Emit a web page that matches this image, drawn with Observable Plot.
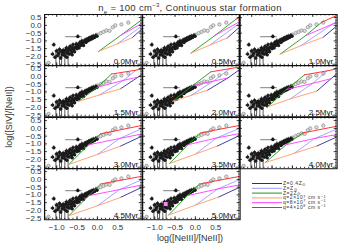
<!DOCTYPE html>
<html><head><meta charset="utf-8">
<script src="https://cdn.jsdelivr.net/npm/d3@7"></script>
<script src="https://cdn.jsdelivr.net/npm/@observablehq/plot@0.6"></script>
<style>
body{margin:0;background:#fff;}
#root{position:relative;width:350px;height:250px;overflow:hidden;font-family:"Liberation Sans",sans-serif;color:#222}
.abs{position:absolute;white-space:nowrap;line-height:1}
.leg sub,.leg sup{font-size:3.8px;line-height:0;vertical-align:baseline;position:relative}
.leg sup{top:-1.8px}
.leg sub{top:0.8px}
</style></head><body><div id="root"></div>
<script>
// ---- data ----
const panelLabels = ["0.0Myr","0.5Myr","1.0Myr","1.5Myr","2.0Myr","2.5Myr","3.0Myr","3.5Myr","4.0Myr","4.5Myr","5.0Myr"];
const xTicks = [-1.0,-0.5,0.0,0.5];
const yTicks = [0.5,0.0,-0.5,-1.0,-1.5,-2.0,-2.5];
// observed points (black, with error bars)
const obsX = [-1.1,-1.07,-1.04,-1.0,-0.98,-0.95,-0.93,-0.9,-0.88,-0.86,-0.84,-0.82,-0.8,-0.78,-0.76,-0.74,-0.72,-0.7,-0.69,-0.67,-0.65,-0.63,-0.61,-0.6,-0.58,-0.56,-0.54,-0.52,-0.5,-0.49,-0.47,-0.45,-0.43,-0.41,-0.4,-0.38,-0.36,-0.34,-0.32,-0.3,-0.28,-0.26,-0.24,-0.22,-0.2,-0.18,-0.16,-0.14,-0.12,-0.1,-0.07,-0.04,-0.01,-0.48,-0.62,-0.75];
const obsY = [-1.85,-1.25,-2.05,-1.65,-1.95,-1.8,-1.55,-2.1,-1.7,-1.9,-1.6,-1.75,-1.95,-1.6,-1.45,-1.8,-1.65,-1.5,-1.85,-1.35,-1.6,-1.75,-1.45,-1.25,-1.55,-1.7,-1.4,-1.2,-1.5,-1.35,-1.25,-1.45,-1.1,-1.3,-1.2,-1.0,-1.15,-1.3,-1.05,-0.95,-1.1,-0.9,-1.0,-0.85,-0.95,-0.8,-0.9,-0.75,-0.85,-0.7,-0.78,-0.65,-0.7,-0.72,-1.9,-2.05];
// observed points (grey open circles)
const circX = [-0.3,-0.1,0.0,0.08,0.15,0.22,0.3,0.38,0.44,0.59,0.76,-1.2];
const circY = [-0.95,-0.75,-0.6,-0.5,-0.42,-0.33,-0.35,-0.12,0.0,0.06,0.18,-2.42];
// upper-limit bars
const limX = [-1.02,-0.93,-0.88,-0.8,-0.72];
const limY1 = [-1.6,-1.55,-1.8,-1.75,-1.9];
const limY2 = [-2.6,-2.6,-2.6,-2.6,-2.6];
// wide horizontal error bar
const hbarY = [-0.72], hbarX1 = [-0.78], hbarX2 = [-0.37];
// highlighted point (5.0 Myr panel only)
const hlX = [-0.73], hlY = [-1.59], hlPanel = ["5.0Myr"];
// model grids: per panel, [Z][q] with Z = 0.4,1,2 Zsun and q = 2e7,8e7,4e8 cm/s
const gridX = [
 [[0.855,1.49,2.0],[0.49,1.46,1.9],[0.03,0.57,1.5]],
 [[0.79,1.4,1.9],[0.35,1.3,1.7],[-0.11,0.48,1.0]],
 [[0.76,1.2,1.6],[0.2,1.0,1.35],[-0.3,0.33,0.72]],
 [[0.57,1.0,1.35],[0.05,0.65,0.95],[-0.46,0.0,0.35]],
 [[0.3,0.8,1.2],[-0.11,0.45,0.85],[-0.56,-0.07,0.38]],
 [[0.6,0.95,1.3],[-0.05,0.5,0.85],[-0.6,-0.15,0.3]],
 [[0.57,1.3,1.8],[0.0,0.55,1.4],[-0.7,-0.22,0.08]],
 [[0.54,1.25,1.8],[0.0,0.52,1.4],[-0.64,-0.18,0.12]],
 [[0.6,1.3,1.8],[0.05,0.55,1.4],[-0.67,-0.15,0.25]],
 [[0.57,1.3,1.8],[0.0,0.55,1.4],[-0.7,-0.22,0.08]],
 [[0.57,1.3,1.8],[0.0,0.55,1.4],[-0.66,-0.2,0.1]]
];
const gridY = [
 [[-0.8,0.72,1.4],[-1.19,0.67,1.3],[-1.68,-0.65,1.15]],
 [[-0.8,0.62,1.3],[-1.28,0.55,1.2],[-1.79,-0.65,0.4]],
 [[-0.76,0.2,1.1],[-1.32,0.1,0.95],[-1.85,-0.65,0.2]],
 [[-0.8,-0.05,0.6],[-1.2,-0.25,0.4],[-1.6,-0.7,0.15]],
 [[-0.89,-0.1,0.65],[-1.23,-0.3,0.5],[-1.6,-0.6,0.29]],
 [[-0.95,-0.15,0.6],[-1.45,-0.45,0.35],[-1.95,-0.85,0.1]],
 [[-1.14,-0.25,0.6],[-1.68,-0.65,0.35],[-2.32,-1.06,-0.35]],
 [[-1.14,-0.25,0.6],[-1.66,-0.62,0.35],[-2.27,-1.05,-0.3]],
 [[-1.14,-0.3,0.55],[-1.6,-0.65,0.3],[-2.21,-1.05,-0.3]],
 [[-1.16,-0.25,0.6],[-1.7,-0.65,0.35],[-2.34,-1.06,-0.3]],
 [[-1.14,-0.25,0.6],[-1.66,-0.62,0.35],[-2.3,-1.05,-0.3]]
];
const zColors = ["#2a2a96","#9c9cff","#1e961e"];
const qColors = ["#ff9a66","#ff3cff","#ff2020"];
const legendLabels = ["Z=0.4Z<sub>⊙</sub>","Z=Z<sub>⊙</sub>","Z=2Z<sub>⊙</sub>","q=2×10<sup>7</sup> cm s<sup>−1</sup>","q=8×10<sup>7</sup> cm s<sup>−1</sup>","q=4×10<sup>8</sup> cm s<sup>−1</sup>"];

// ---- layout ----
const root = document.getElementById("root");
const colX=[44,141.67,239.33], rowY=[14,65.25,116.5,167.75], PW=97.67, PH=51.25;
const xDom=[-1.3,1.1], yDom=[-2.6,0.7];
const fmt = d3.format(".1f");
const minorX = d3.range(-12,11).map(d=>d/10);
const minorY = d3.range(-25,7).map(d=>d/10);
const tx = (xDom[1]-xDom[0])/PW, ty = (yDom[1]-yDom[0])/PH; // data units per pixel
const obs = obsX.map((x,i)=>({x,y:obsY[i]}));
const circ = circX.map((x,i)=>({x,y:circY[i]}));
const lims = limX.map((x,i)=>({x,y1:limY1[i],y2:limY2[i]}));
const hbars = hbarY.map((y,i)=>({y,x1:hbarX1[i],x2:hbarX2[i]}));

function tickMarks(){
  const k="#111", w=0.8;
  return [
    Plot.ruleX(xTicks,{x:d=>d,y1:yDom[0],y2:yDom[0]+3*ty,stroke:k,strokeWidth:w}),
    Plot.ruleX(xTicks,{x:d=>d,y1:yDom[1],y2:yDom[1]-3*ty,stroke:k,strokeWidth:w}),
    Plot.ruleX(minorX,{x:d=>d,y1:yDom[0],y2:yDom[0]+1.5*ty,stroke:k,strokeWidth:w}),
    Plot.ruleX(minorX,{x:d=>d,y1:yDom[1],y2:yDom[1]-1.5*ty,stroke:k,strokeWidth:w}),
    Plot.ruleY(yTicks,{y:d=>d,x1:xDom[0],x2:xDom[0]+3*tx,stroke:k,strokeWidth:w}),
    Plot.ruleY(yTicks,{y:d=>d,x1:xDom[1],x2:xDom[1]-3*tx,stroke:k,strokeWidth:w}),
    Plot.ruleY(minorY,{y:d=>d,x1:xDom[0],x2:xDom[0]+1.5*tx,stroke:k,strokeWidth:w}),
    Plot.ruleY(minorY,{y:d=>d,x1:xDom[1],x2:xDom[1]-1.5*tx,stroke:k,strokeWidth:w})
  ];
}

panelLabels.forEach((lab,i)=>{
  const r=Math.floor(i/3), c=i%3;
  const isLeft=c===0, isBottom=r===3;
  const ml = isLeft?44:0, mb = isBottom?32:0;
  const lines=[];
  for(let z=0;z<3;z++){ for(let q=0;q<3;q++){ lines.push({g:"z"+z,color:zColors[z],x:gridX[i][z][q],y:gridY[i][z][q]}); } }
  for(let q=0;q<3;q++){ for(let z=0;z<3;z++){ lines.push({g:"q"+q,color:qColors[q],x:gridX[i][z][q],y:gridY[i][z][q]}); } }
  const hl = hlX.map((x,k)=>({x,y:hlY[k],p:hlPanel[k]})).filter(d=>d.p===lab);
  const marks=[
    Plot.ruleX(lims,{x:"x",y1:"y1",y2:"y2",stroke:"#333",strokeWidth:0.8,clip:true}),
    Plot.ruleY(hbars,{y:"y",x1:"x1",x2:"x2",stroke:"#999",strokeWidth:1.2,clip:true}),
    Plot.dot(circ,{x:"x",y:"y",r:1.7,fill:"#ddd",stroke:"#888",strokeWidth:0.7,clip:true}),
    Plot.ruleX(obs,{x:"x",y1:d=>d.y-0.13,y2:d=>d.y+0.13,stroke:"#222",strokeWidth:0.7,clip:true}),
    Plot.ruleY(obs,{y:"y",x1:d=>d.x-0.045,x2:d=>d.x+0.045,stroke:"#222",strokeWidth:0.7,clip:true}),
    Plot.dot(obs,{x:"x",y:"y",r:1.7,fill:"#1a1a1a",stroke:"none",clip:true}),
    Plot.dot(hl,{x:"x",y:"y",r:2.2,symbol:"square",fill:"#ff80ff",stroke:"none",clip:true}),
    Plot.line(lines,{x:"x",y:"y",z:"g",stroke:"color",strokeWidth:0.9,clip:true}),
    Plot.frame({stroke:"#111",strokeWidth:1}),
    ...tickMarks(),
    Plot.text([lab],{frameAnchor:"bottom-right",dx:-4,dy:-2,text:d=>d,fontSize:8,fill:"#111"})
  ];
  if(isLeft) marks.push(Plot.axisY(yTicks,{anchor:"left",tickSize:0,tickPadding:3,tickFormat:fmt,fontSize:8,fill:"#333"}));
  if(isBottom) marks.push(Plot.axisX(xTicks,{anchor:"bottom",tickSize:0,tickPadding:5,tickFormat:fmt,fontSize:8,fill:"#333"}));
  const svg = Plot.plot({
    width: PW+ml, height: PH+mb,
    marginLeft: ml, marginBottom: mb, marginTop:0, marginRight:0,
    x:{domain:xDom, axis:null}, y:{domain:yDom, axis:null},
    style:{background:"transparent",overflow:"visible",fontFamily:"Liberation Sans"},
    marks
  });
  svg.style.position="absolute";
  svg.style.left=(colX[c]-ml)+"px";
  svg.style.top=rowY[r]+"px";
  root.appendChild(svg);
});

// title and axis labels
function addText(html,left,top,style,cls){const d=document.createElement("div");d.className="abs"+(cls?" "+cls:"");d.innerHTML=html;d.style.left=left+"px";d.style.top=top+"px";Object.assign(d.style,style||{});root.appendChild(d);return d;}
addText("n<sub style='font-size:6px'>e</sub> = 100 cm<sup style='font-size:6px'>−3</sup>, Continuous star formation",190,2,{fontSize:"9.5px",transform:"translateX(-50%)",color:"#333",letterSpacing:"0.3px"});
addText("log([NeIII]/[NeII])",190,234,{fontSize:"9px",transform:"translateX(-50%)",color:"#333"});
addText("log([SIV]/[NeII])",9,117,{fontSize:"9px",transform:"translate(-50%,-50%) rotate(-90deg)",color:"#333"});

// legend
const legRows = d3.range(6);
const legColors = [...zColors,...qColors];
const leg = Plot.plot({
  width:30,height:24,margin:0,
  x:{domain:[0,1],axis:null},y:{domain:[0,5],axis:null,reverse:true},
  style:{background:"transparent",overflow:"visible"},
  marks:[Plot.ruleY(legRows,{y:d=>d,x1:0,x2:1,stroke:d=>legColors[d],strokeWidth:1})]
});
leg.style.position="absolute";leg.style.left="252px";leg.style.top="183px";
root.appendChild(leg);
legendLabels.forEach((t,k)=>addText(t,283,183+k*4.8,{fontSize:"5px",lineHeight:"4.6px",transform:"translateY(-50%)",color:"#333",letterSpacing:"0.55px"},"leg"));
</script></body></html>
